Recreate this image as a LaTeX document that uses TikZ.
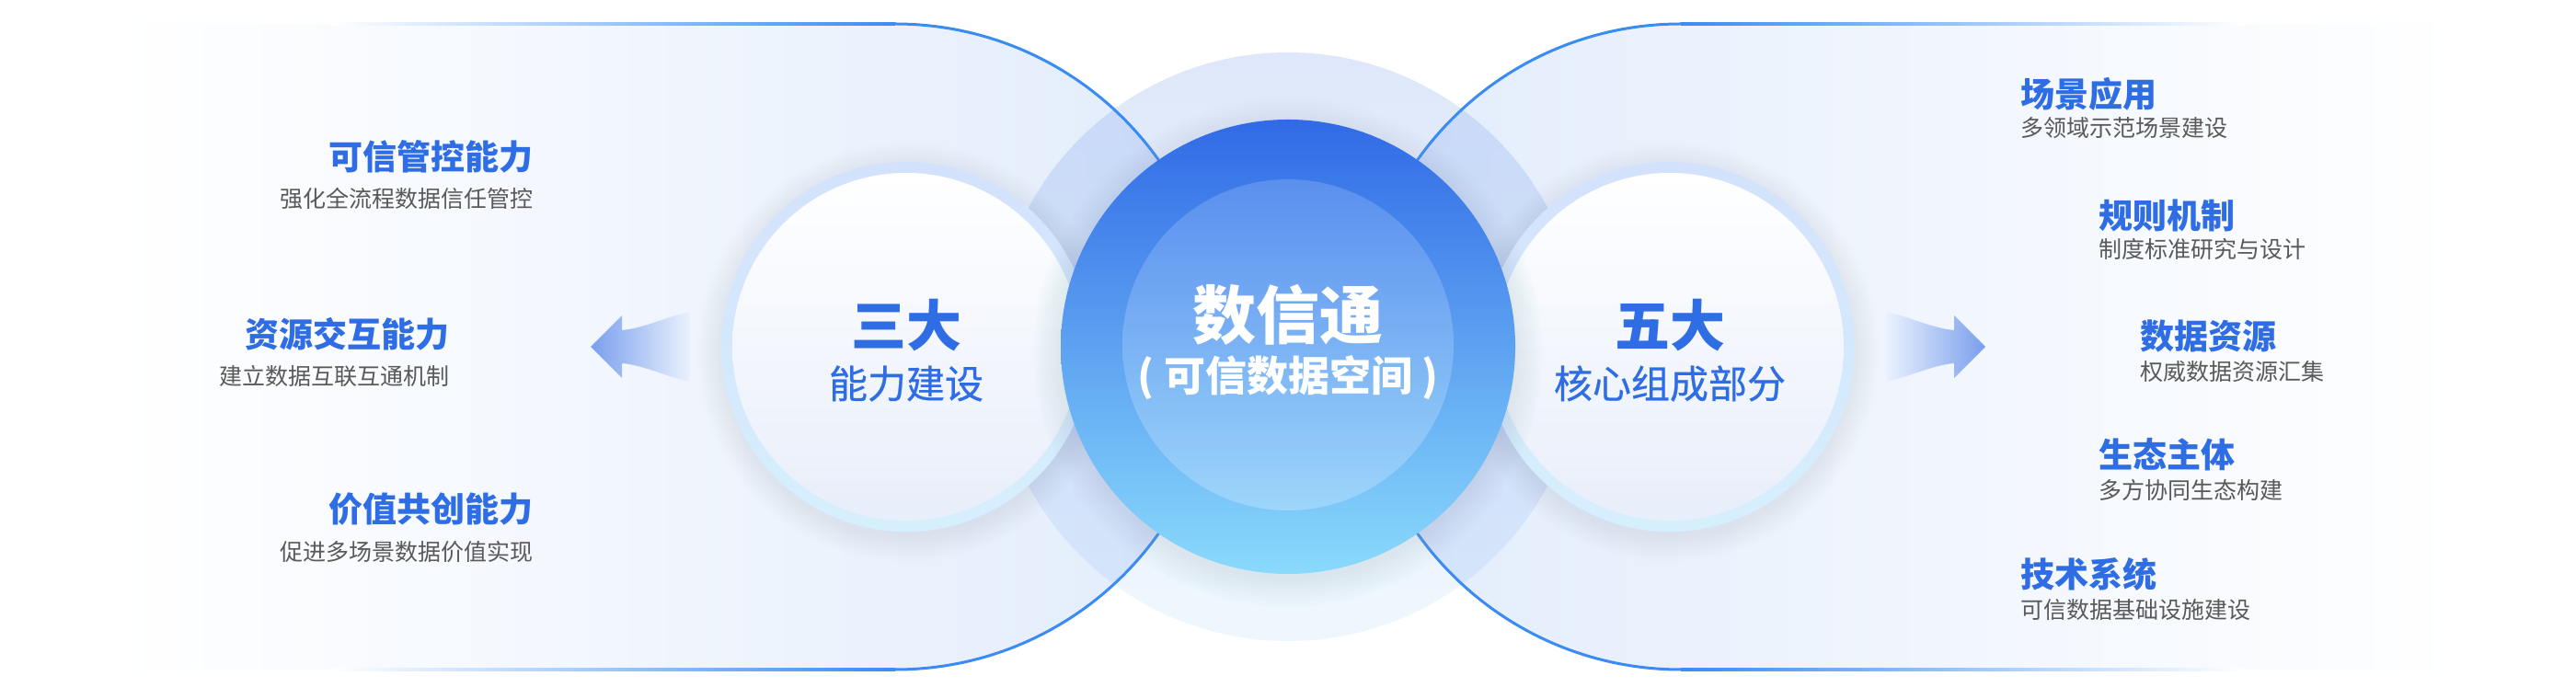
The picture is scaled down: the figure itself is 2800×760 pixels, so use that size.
\documentclass[tikz,border=0pt]{standalone}
\usepackage{fontspec}
\setmainfont{Noto Sans CJK SC}
\newfontfamily\medfont{Noto Sans CJK SC}[FakeBold=0.6]
\definecolor{lineblue}{HTML}{3A8CF4}
\definecolor{shapeblue}{HTML}{E2ECFC}
\definecolor{shapemid}{HTML}{F1F6FE}
\definecolor{tblue}{HTML}{2F6DE5}
\definecolor{subgray}{HTML}{595959}
\definecolor{halotop}{HTML}{DFE8FA}
\definecolor{halobot}{HTML}{EFF7FE}
\definecolor{ctop}{HTML}{306AE6}
\definecolor{cbot}{HTML}{8ADAFC}
\definecolor{itop}{HTML}{5A8FEE}
\definecolor{ibot}{HTML}{9CD6FA}
\definecolor{ringtop}{HTML}{D3E2FC}
\definecolor{ringbot}{HTML}{D6EFFD}
\definecolor{discbot}{HTML}{E8EEFA}
\definecolor{shadowc}{HTML}{A9BBE4}
\definecolor{arrowc}{HTML}{7A9FEE}
\definecolor{arrowfade}{HTML}{EAF2FD}
\tikzset{
  ttl/.style={font=\fontsize{37}{40}\selectfont\bfseries, text=tblue, inner sep=0pt},
  subt/.style={font=\fontsize{25}{28}\selectfont, text=subgray, inner sep=0pt},
  bigttl/.style={font=\fontsize{60}{64}\selectfont\bfseries, text=tblue, inner sep=0pt},
  bigsub/.style={font=\medfont\fontsize{42}{46}\selectfont, text=tblue, inner sep=0pt},
  ringfill/.style={top color=ringtop, bottom color=ringbot},
  discfill/.style={top color=white, bottom color=discbot},
}
\begin{document}
\begin{tikzpicture}[x=1pt,y=1pt]
\useasboundingbox (0,0) rectangle (2800,760);
\fill[white] (0,0) rectangle (2800,760);

% side shapes
\shade[left color=white, middle color=shapemid, right color=shapeblue]
  (125,734) -- (973,734) arc[start angle=90,end angle=-90,radius=351] -- (125,32) -- cycle;
\shade[left color=shapeblue, middle color=shapemid, right color=white]
  (2675,734) -- (1827,734) arc[start angle=90,end angle=270,radius=351] -- (2675,32) -- cycle;

% halo
\begin{scope}[blend mode=multiply]
\shade[top color=halotop, bottom color=halobot] (1400,383) circle (320);
\end{scope}

% border lines
\shade[left color=white, right color=lineblue] (360,732.5) rectangle (973,735.5);
\shade[left color=white, right color=lineblue] (360,30.5) rectangle (973,33.5);
\shade[left color=lineblue, right color=white] (1827,732.5) rectangle (2440,735.5);
\shade[left color=lineblue, right color=white] (1827,30.5) rectangle (2440,33.5);
\draw[lineblue, line width=3pt] (973,734) arc[start angle=90,end angle=-90,radius=351];
\draw[lineblue, line width=3pt] (1827,734) arc[start angle=90,end angle=270,radius=351];

% arrows
\shade[left color=arrowc, right color=arrowfade]
  (642,383) -- (676,417) -- (676,401) .. controls (700,403) and (725,416) .. (750,421)
  -- (750,345) .. controls (725,350) and (700,363) .. (676,365) -- (676,349) -- cycle;
\shade[left color=arrowfade, right color=arrowc]
  (2158,383) -- (2124,417) -- (2124,401) .. controls (2100,403) and (2075,416) .. (2050,421)
  -- (2050,345) .. controls (2075,350) and (2100,363) .. (2124,365) -- (2124,349) -- cycle;

% small circles with shadows
\foreach \cx in {985,1815}{
  \foreach \k in {1,...,16}{
    \fill[shadowc, opacity=0.012] (\cx,377) circle ({199+1.8*\k});
  }
  \shade[ringfill] (\cx,383) circle (201);
  \shade[discfill] (\cx,383) circle (189);
}

% center circle with shadow
\foreach \k in {1,...,16}{
  \fill[shadowc, opacity=0.015] (1400,377) circle ({245+2*\k});
}
\shade[top color=ctop, bottom color=cbot] (1400,383) circle (247);
\shade[top color=itop, bottom color=ibot] (1400,385) circle (180);

% center texts
\node[font=\fontsize{69}{72}\selectfont\bfseries, text=white, inner sep=0pt] (main) at (1400,418) {数信通};
\node[font=\fontsize{45}{48}\selectfont\bfseries, text=white, inner sep=0pt] (mainsub) at (1400,349) {( 可信数据空间 )};

\node[bigttl] (three) at (985,406) {三大};
\node[bigsub] (threesub) at (985,343) {能力建设};
\node[bigttl] (five) at (1815,406) {五大};
\node[bigsub] (fivesub) at (1815,343) {核心组成部分};

% left texts
\node[ttl, anchor=east] (l1) at (580,590) {可信管控能力};
\node[subt, anchor=east] (l1s) at (580,544) {强化全流程数据信任管控};
\node[ttl, anchor=east] (l2) at (489,397) {资源交互能力};
\node[subt, anchor=east] (l2s) at (489,351) {建立数据互联互通机制};
\node[ttl, anchor=east] (l3) at (580,206) {价值共创能力};
\node[subt, anchor=east] (l3s) at (580,160) {促进多场景数据价值实现};

% right texts
\node[ttl, anchor=west] (r1) at (2196,658) {场景应用};
\node[subt, anchor=west] (r1s) at (2196,621) {多领域示范场景建设};
\node[ttl, anchor=west] (r2) at (2281,526) {规则机制};
\node[subt, anchor=west] (r2s) at (2281,489) {制度标准研究与设计};
\node[ttl, anchor=west] (r3) at (2326,394) {数据资源};
\node[subt, anchor=west] (r3s) at (2326,356) {权威数据资源汇集};
\node[ttl, anchor=west] (r4) at (2281,266) {生态主体};
\node[subt, anchor=west] (r4s) at (2281,227) {多方协同生态构建};
\node[ttl, anchor=west] (r5) at (2196,136) {技术系统};
\node[subt, anchor=west] (r5s) at (2196,97) {可信数据基础设施建设};
\end{tikzpicture}
\end{document}
